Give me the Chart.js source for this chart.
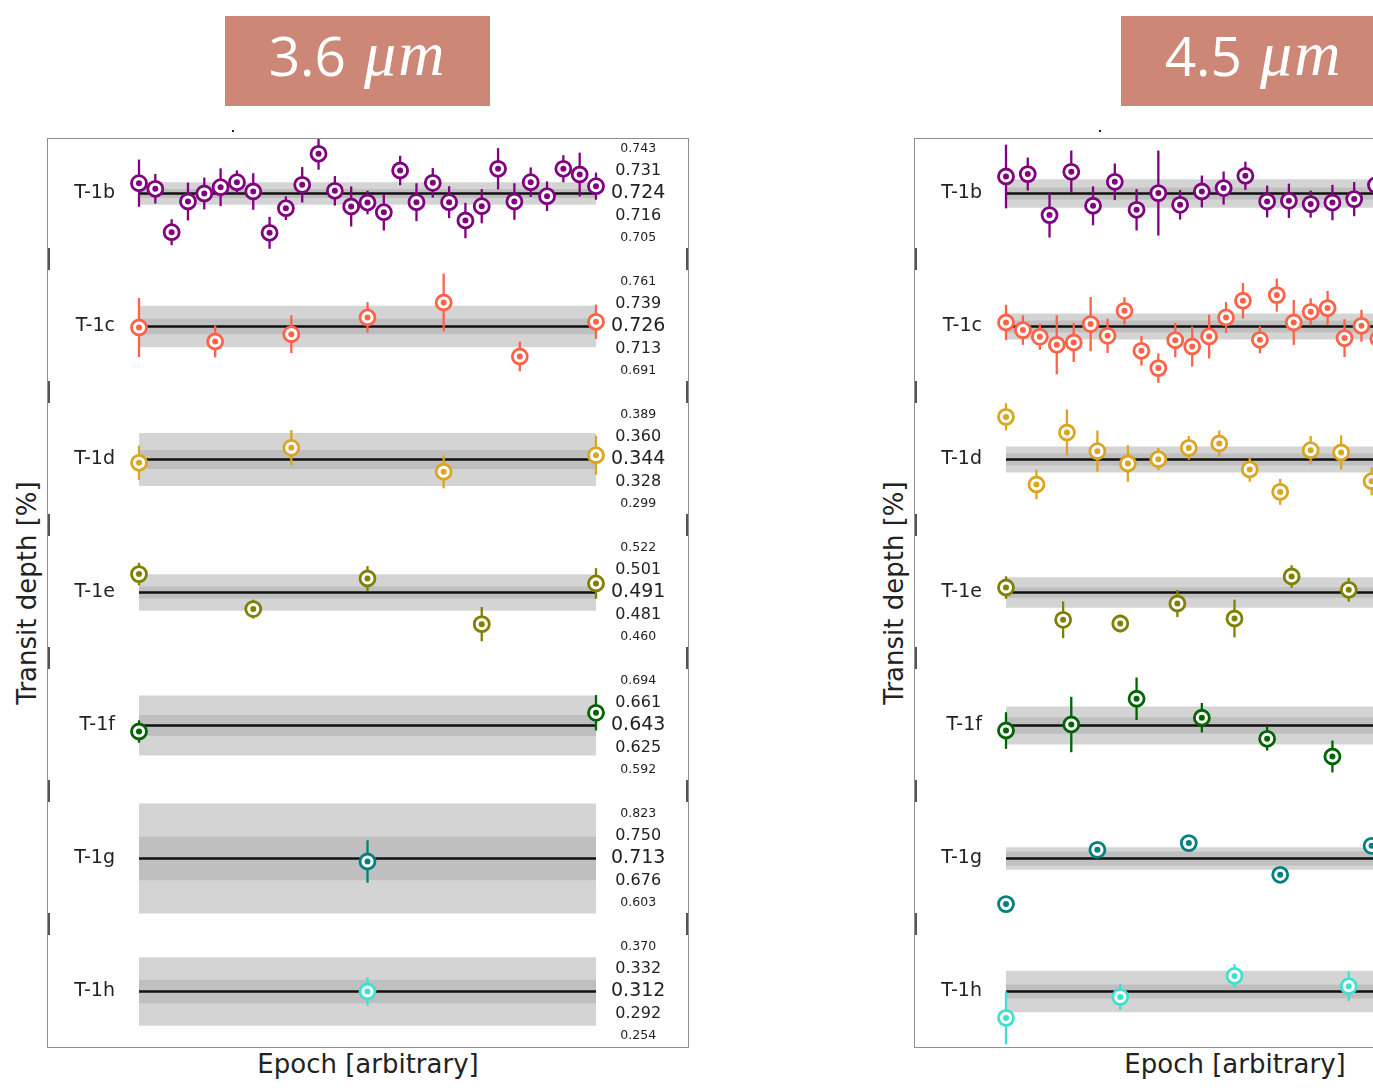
<!DOCTYPE html>
<html lang="en">
<head>
<meta charset="UTF-8">
<title>Transit depth per epoch</title>
<style>
  html, body { margin: 0; padding: 0; background: #fff; }
  body { width: 1373px; height: 1088px; overflow: hidden; position: relative; font-family: "DejaVu Sans", sans-serif; }
  .band-title { position: absolute; top: 16px; width: 265px; height: 90px; box-sizing: border-box; padding-bottom: 14px;
                background: #cd8776; color: #fff; display: flex; align-items: center; justify-content: center; }
  .band-title .num { font-family: "Open Sans", sans-serif; font-size: 55px; }
  .band-title .unit { font-family: "Liberation Serif", serif; font-style: italic; font-size: 64px; margin-left: 18px; letter-spacing: 2px; }
  .frame { position: absolute; top: 138px; width: 642px; height: 910px; box-sizing: border-box;
           border: 1px solid #8f8f8f; overflow: hidden; }
  .frame canvas { position: absolute; left: 0; top: -12px; }
  .ylab { position: absolute; top: 593px; font-size: 26px; color: #222; white-space: nowrap;
          transform: translate(-50%, -50%) rotate(-90deg); }
  .xlab { position: absolute; top: 1049px; font-size: 26px; color: #222; white-space: nowrap; transform: translateX(-50%); }
  .dot { position: absolute; top: 130px; width: 2px; height: 2px; background: #222; }
</style>
<script src="https://cdn.jsdelivr.net/npm/chart.js"></script>
</head>
<body>
  <div class="band-title" style="left:225px"><span class="num">3.6</span><span class="unit">μm</span></div>
  <div class="band-title" style="left:1121px"><span class="num">4.5</span><span class="unit">μm</span></div>
  <div class="dot" style="left:232px"></div>
  <div class="dot" style="left:1099px"></div>

  <div class="frame" style="left:47px"><canvas id="chart36" width="640" height="931"></canvas></div>
  <div class="frame" style="left:914px"><canvas id="chart45" width="640" height="931"></canvas></div>

  <div class="ylab" style="left:27px">Transit depth [%]</div>
  <div class="ylab" style="left:894px">Transit depth [%]</div>
  <div class="xlab" style="left:368px">Epoch [arbitrary]</div>
  <div class="xlab" style="left:1235px">Epoch [arbitrary]</div>

<script>
const planets = ['T-1b', 'T-1c', 'T-1d', 'T-1e', 'T-1f', 'T-1g', 'T-1h'];
const colors = ['#800080', '#ff6347', '#daa520', '#808000', '#006400', '#008080', '#40e0d0'];

// 3.6 micron
const mean36 = [0.724, 0.726, 0.344, 0.491, 0.643, 0.713, 0.312];
const sigma36 = [0.0075, 0.013, 0.016, 0.010, 0.018, 0.037, 0.020];
const outer36 = [0.019, 0.035, 0.045, 0.031, 0.051, 0.093, 0.058];
const labels36 = [
    ['0.743', '0.731', '0.724', '0.716', '0.705'],
    ['0.761', '0.739', '0.726', '0.713', '0.691'],
    ['0.389', '0.360', '0.344', '0.328', '0.299'],
    ['0.522', '0.501', '0.491', '0.481', '0.460'],
    ['0.694', '0.661', '0.643', '0.625', '0.592'],
    ['0.823', '0.750', '0.713', '0.676', '0.603'],
    ['0.370', '0.332', '0.312', '0.292', '0.254']
];
const epochs36 = [29, 7, 4, 5, 2, 1, 1];
const depth36 = [
    [0.7415, 0.7320, 0.6584, 0.7104, 0.7240, 0.7347, 0.7432, 0.7274, 0.6574, 0.6991, 0.7387, 0.7913, 0.7286, 0.7020, 0.7087,
     0.6923, 0.7630, 0.7093, 0.7421, 0.7093, 0.6782, 0.7025, 0.7659, 0.7104, 0.7432, 0.7194, 0.7659, 0.7562, 0.7364],
    [0.7243, 0.7006, 0.7130, 0.7413, 0.7667, 0.6752, 0.7340],
    [0.3384, 0.3638, 0.3232, 0.3513],
    [0.5222, 0.4629, 0.5147, 0.4374, 0.5063],
    [0.6328, 0.6645],
    [0.7079],
    [0.3120]
];
const err36 = [
    [0.040, 0.025, 0.022, 0.032, 0.027, 0.032, 0.020, 0.031, 0.027, 0.020, 0.030, 0.027, 0.025, 0.034, 0.020,
     0.031, 0.025, 0.032, 0.025, 0.027, 0.030, 0.029, 0.035, 0.031, 0.025, 0.025, 0.023, 0.037, 0.023],
    [0.050, 0.027, 0.032, 0.026, 0.049, 0.025, 0.029],
    [0.029, 0.030, 0.028, 0.033],
    [0.019, 0.016, 0.021, 0.029, 0.026],
    [0.019, 0.030],
    [0.036],
    [0.024]
];

// 4.5 micron (right-hand labels are cropped in the figure)
const mean45 = [0.724, 0.726, 0.344, 0.491, 0.643, 0.713, 0.312];
const sigma45 = [0.010, 0.010, 0.010, 0.009, 0.014, 0.012, 0.012];
const outer45 = [0.024, 0.022, 0.022, 0.026, 0.032, 0.019, 0.035];
const epochs45 = [22, 28, 16, 9, 8, 6, 5];
const depth45 = [
    [0.7528, 0.7569, 0.6874, 0.7608, 0.7032, 0.7438, 0.6964, 0.7247, 0.7048, 0.7274, 0.7332, 0.7540, 0.7104, 0.7116,
     0.7060, 0.7087, 0.7145, 0.7382],
    [0.7328, 0.7199, 0.7085, 0.6950, 0.6989, 0.7301, 0.7102, 0.7526, 0.6848, 0.6555, 0.7029, 0.6921, 0.7091, 0.7413,
     0.7696, 0.7035, 0.7792, 0.7328, 0.7509, 0.7572, 0.7063, 0.7272, 0.7052],
    [0.4162, 0.3016, 0.3898, 0.3581, 0.3372, 0.3445, 0.3637, 0.3711, 0.3271, 0.2891, 0.3598, 0.3559, 0.3072],
    [0.4995, 0.4447, 0.4385, 0.4724, 0.4469, 0.5181, 0.4956],
    [0.6345, 0.6447, 0.6883, 0.6561, 0.6205, 0.5905],
    [0.6357, 0.7277, 0.7391, 0.6854, 0.7345],
    [0.2673, 0.3028, 0.3384, 0.3210]
];
const err45 = [
    [0.054, 0.028, 0.038, 0.036, 0.033, 0.031, 0.035, 0.072, 0.025, 0.027, 0.028, 0.024, 0.027, 0.029, 0.023, 0.030, 0.029, 0.025],
    [0.030, 0.025, 0.022, 0.050, 0.033, 0.046, 0.029, 0.023, 0.025, 0.025, 0.029, 0.034, 0.037, 0.026, 0.030, 0.023,
     0.028, 0.038, 0.023, 0.029, 0.032, 0.027, 0.025],
    [0.023, 0.025, 0.039, 0.035, 0.031, 0.019, 0.020, 0.022, 0.021, 0.022, 0.024, 0.029, 0.024],
    [0.019, 0.031, 0.015, 0.023, 0.032, 0.019, 0.020],
    [0.031, 0.047, 0.036, 0.025, 0.020, 0.027],
    [0.012, 0.012, 0.012, 0.012, 0.012],
    [0.045, 0.022, 0.020, 0.025]
];

const fontFamily = '"DejaVu Sans", sans-serif';
const halfSpan = 0.1127;              // each row shows mean +/- this much (same scale in every row)
const labelSizes = [12, 12.5, 16, 19, 16, 12.5, 12];

// vertical error bars, drawn just under the open circles
const errorBars = {
    id: 'errorBars',
    beforeDatasetDraw(chart, args) {
        const ds = chart.data.datasets[args.index];
        if (!ds.errors) return;
        const ys = chart.scales[ds.yAxisID];
        const xs = chart.scales.x;
        const ctx = chart.ctx;
        ctx.save();
        ctx.strokeStyle = ds.pointBorderColor;
        ctx.lineWidth = 2.3;
        ds.data.forEach((p, i) => {
            const px = xs.getPixelForValue(p.x);
            ctx.beginPath();
            ctx.moveTo(px, ys.getPixelForValue(p.y + ds.errors[i]));
            ctx.lineTo(px, ys.getPixelForValue(p.y - ds.errors[i]));
            ctx.stroke();
        });
        ctx.restore();
    }
};

// short spine stubs on the frame between the rows
const spineStubs = {
    id: 'spineStubs',
    afterDraw(chart) {
        const ctx = chart.ctx;
        ctx.save();
        ctx.fillStyle = '#555';
        for (let k = 1; k < planets.length; k++) {
            const y = chart.scales['y' + k].top;
            ctx.fillRect(0, y - 12, 2, 22);
            ctx.fillRect(chart.width - 2, y - 12, 2, 22);
        }
        ctx.restore();
    }
};

// no automatic label padding: the rows must fill the whole canvas height
function noPad(s, width) {
    s.width = width;
    s.paddingTop = 0;
    s.paddingBottom = 0;
    s.paddingLeft = 0;
    s.paddingRight = 0;
}

function buildPanel(canvasId, means, sigmas, outers, epochs, depths, errors, tickLabels) {
    const scales = {
        x: { type: 'linear', min: -0.02845, max: 1.02626, display: false }
    };
    const datasets = [];

    planets.forEach((name, k) => {
        const yid = 'y' + k;
        const m = means[k];
        scales[yid] = {
            type: 'linear', position: 'left', stack: 'rows', weight: planets.length - k,
            min: m - halfSpan, max: m + halfSpan,
            grid: { display: false, drawTicks: false }, border: { display: false },
            afterBuildTicks: s => { s.ticks = [{ value: m }]; },
            afterFit: s => noPad(s, 78),
            ticks: { callback: () => name, padding: 11, color: '#222', font: { family: fontFamily, size: 19 } }
        };
        scales['r' + k] = {
            type: 'category', position: 'right', stack: 'labels', weight: k,
            labels: ['', ...(tickLabels ? tickLabels[k] : ['', '', '', '', '']), ''],
            offset: false,
            grid: { display: false, drawTicks: false }, border: { display: false },
            afterFit: s => noPad(s, 80),
            ticks: {
                autoSkip: false, crossAlign: 'center', padding: 3, color: '#222',
                font: ctx => ({ family: fontFamily, size: labelSizes[ctx.index] })
            }
        };

        const flat = v => [{ x: 0, y: v }, { x: 1, y: v }];
        datasets.push({ yAxisID: yid, data: flat(m + outers[k]), fill: { value: m - outers[k] },
                        backgroundColor: '#d4d4d4', borderWidth: 0, pointRadius: 0, order: 5 });
        datasets.push({ yAxisID: yid, data: flat(m + sigmas[k]), fill: { value: m - sigmas[k] },
                        backgroundColor: '#bfbfbf', borderWidth: 0, pointRadius: 0, order: 4 });
        datasets.push({ yAxisID: yid, data: flat(m), borderColor: '#111', borderWidth: 2.4,
                        pointRadius: 0, fill: false, order: 3 });

        const n = epochs[k];
        const pts = depths[k].map((d, i) => ({ x: n > 1 ? i / (n - 1) : 0.5, y: d }));
        datasets.push({ yAxisID: yid, data: pts, errors: errors[k], showLine: false, clip: false,
                        pointRadius: 7.5, pointBorderWidth: 2.8, pointBackgroundColor: '#fff',
                        pointBorderColor: colors[k], order: 2 });
        datasets.push({ yAxisID: yid, data: pts, showLine: false, clip: false,
                        pointRadius: 3, pointBorderWidth: 0, pointBackgroundColor: colors[k], order: 1 });
    });

    new Chart(document.getElementById(canvasId), {
        type: 'line',
        data: { datasets: datasets },
        options: {
            responsive: false,
            animation: false,
            events: [],
            layout: { padding: 0, autoPadding: false },
            plugins: { legend: { display: false }, tooltip: { enabled: false } },
            scales: scales
        },
        plugins: [errorBars, spineStubs]
    });
}

buildPanel('chart36', mean36, sigma36, outer36, epochs36, depth36, err36, labels36);
buildPanel('chart45', mean45, sigma45, outer45, epochs45, depth45, err45, null);
</script>
</body>
</html>
